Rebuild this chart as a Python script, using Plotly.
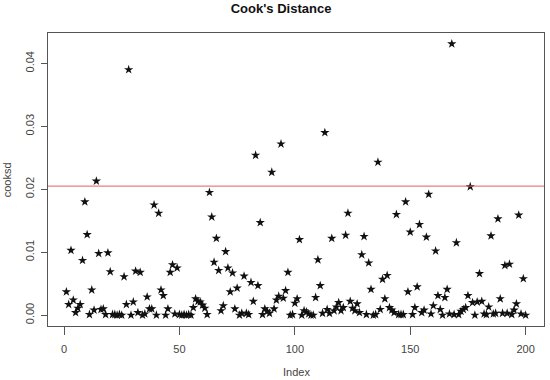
import plotly.graph_objects as go

cooksd = [
    0.0037, 0.0017, 0.0103, 0.0024, 0.0004, 0.0011, 0.0017, 0.0087, 0.0180, 0.0128,
    0.0001, 0.0040, 0.0008, 0.0213, 0.0098, 0.0009, 0.0010, 0.0001, 0.0099, 0.0069,
    0.0001, 0.0001, 0.0000, 0.0001, 0.0000, 0.0061, 0.0017, 0.0390, 0.0000, 0.0021,
    0.0070, 0.0004, 0.0068, 0.0000, 0.0002, 0.0029, 0.0010, 0.0010, 0.0175, 0.0000,
    0.0162, 0.0040, 0.0031, 0.0000, 0.0010, 0.0068, 0.0080, 0.0002, 0.0075, 0.0001,
    0.0000, 0.0001, 0.0000, 0.0001, 0.0000, 0.0012, 0.0026, 0.0022, 0.0021, 0.0016,
    0.0011, 0.0001, 0.0195, 0.0156, 0.0084, 0.0122, 0.0071, 0.0007, 0.0015, 0.0101,
    0.0075, 0.0037, 0.0067, 0.0010, 0.0043, 0.0000, 0.0003, 0.0062, 0.0003, 0.0001,
    0.0052, 0.0022, 0.0254, 0.0047, 0.0147, 0.0001, 0.0010, 0.0006, 0.0003, 0.0227,
    0.0010, 0.0024, 0.0030, 0.0272, 0.0027, 0.0039, 0.0068, 0.0000, 0.0001, 0.0019,
    0.0026, 0.0120, 0.0000, 0.0007, 0.0005, 0.0002, 0.0000, 0.0000, 0.0028, 0.0088,
    0.0047, 0.0003, 0.0290, 0.0009, 0.0003, 0.0122, 0.0007, 0.0013, 0.0020, 0.0007,
    0.0012, 0.0127, 0.0162, 0.0022, 0.0011, 0.0007, 0.0018, 0.0004, 0.0096, 0.0125,
    0.0001, 0.0083, 0.0041, 0.0000, 0.0001, 0.0243, 0.0009, 0.0057, 0.0026, 0.0063,
    0.0012, 0.0008, 0.0004, 0.0160, 0.0001, 0.0001, 0.0001, 0.0180, 0.0037, 0.0132,
    0.0001, 0.0012, 0.0045, 0.0144, 0.0004, 0.0008, 0.0124, 0.0192, 0.0002, 0.0015,
    0.0102, 0.0031, 0.0009, 0.0000, 0.0028, 0.0041, 0.0002, 0.0431, 0.0001, 0.0115,
    0.0001, 0.0006, 0.0009, 0.0012, 0.0031, 0.0204, 0.0020, 0.0000, 0.0021, 0.0066,
    0.0022, 0.0002, 0.0001, 0.0013, 0.0126, 0.0002, 0.0003, 0.0153, 0.0026, 0.0003,
    0.0079, 0.0003, 0.0081, 0.0001, 0.0008, 0.0018, 0.0159, 0.0002, 0.0058, 0.0000,
]
index = list(range(1, len(cooksd) + 1))

cutoff = 0.0205
x_ticks = [0, 50, 100, 150, 200]
y_ticks = [0.00, 0.01, 0.02, 0.03, 0.04]

FONT = "Liberation Sans, Arial, sans-serif"
AXIS_COLOR = "#555555"

fig = go.Figure()
fig.add_trace(go.Scatter(
    x=index,
    y=cooksd,
    mode="markers",
    marker=dict(symbol="star", size=7, color="#111111", line=dict(width=0)),
    showlegend=False,
))
fig.add_hline(y=cutoff, line=dict(color="#E06060", width=1))

# axis titles placed by hand, like R's mtext lines
fig.add_annotation(
    text="Index", x=0.5, y=-0.157, xref="paper", yref="paper",
    xanchor="center", yanchor="middle", showarrow=False,
    font=dict(family=FONT, size=11, color="#444444"),
)
fig.add_annotation(
    text="cooksd", x=-0.083, y=0.5, xref="paper", yref="paper",
    xanchor="center", yanchor="middle", textangle=-90, showarrow=False,
    font=dict(family=FONT, size=11, color="#444444"),
)

fig.update_layout(
    width=550,
    height=380,
    margin=dict(l=48, r=6, t=33, b=54),
    paper_bgcolor="white",
    plot_bgcolor="white",
    font=dict(family=FONT, size=11, color="#444444"),
    title=dict(
        text="<b>Cook's Distance</b>",
        x=0.511,
        xref="container",
        xanchor="center",
        y=0.99,
        yref="container",
        yanchor="top",
        font=dict(family=FONT, size=13, color="#111111"),
    ),
    xaxis=dict(
        range=[-6.96, 207.96],
        tickvals=x_ticks,
        ticks="outside",
        ticklen=8,
        tickcolor=AXIS_COLOR,
        ticklabelstandoff=5,
        showgrid=False,
        zeroline=False,
        showline=True,
        linecolor=AXIS_COLOR,
        mirror=True,
    ),
    yaxis=dict(
        range=[-0.001724, 0.044824],
        tickvals=y_ticks,
        tickformat=".2f",
        tickangle=-90,
        ticks="outside",
        ticklen=6,
        tickcolor=AXIS_COLOR,
        ticklabelstandoff=3,
        showgrid=False,
        zeroline=False,
        showline=True,
        linecolor=AXIS_COLOR,
        mirror=True,
    ),
)

# drop the browser's default body margin so the figure sits at the window origin
fig.write_html(
    "out.html",
    config={"displayModeBar": False},
    post_script="document.body.style.margin='0px';",
)
